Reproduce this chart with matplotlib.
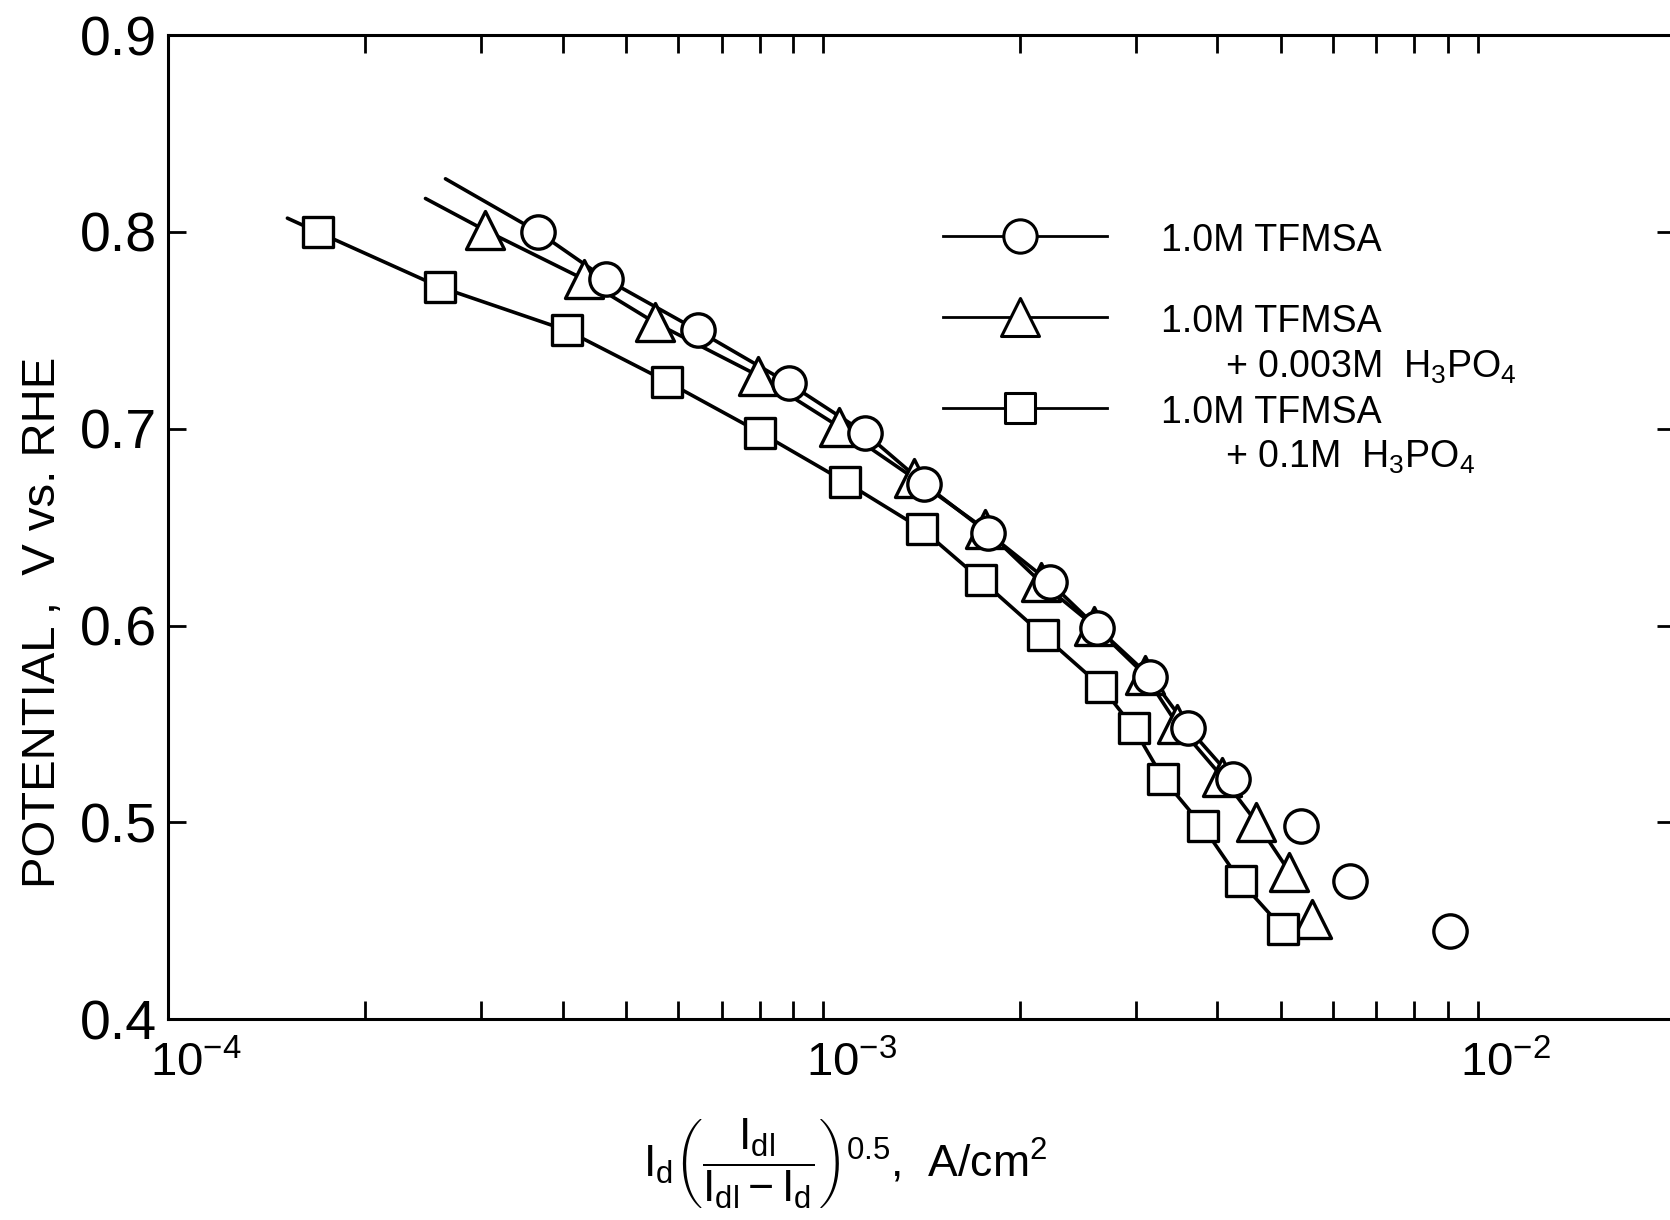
import matplotlib
matplotlib.use('Agg')
import matplotlib.pyplot as plt
import matplotlib.transforms as mtransforms
from matplotlib.markers import MarkerStyle
from matplotlib.ticker import FixedLocator, NullFormatter

plt.rcParams['font.family'] = ['Liberation Sans', 'DejaVu Sans']
plt.rcParams['mathtext.fontset'] = 'custom'
plt.rcParams['mathtext.rm'] = 'Liberation Sans'
plt.rcParams['mathtext.it'] = 'Liberation Sans'
plt.rcParams['mathtext.bf'] = 'Liberation Sans:bold'
plt.rcParams['mathtext.sf'] = 'Liberation Sans'

# values (current density A/cm2, potential V vs RHE)
tfmsa_x = [3.67e-4, 4.66e-4, 6.43e-4, 8.87e-4, 1.157e-3, 1.427e-3, 1.787e-3, 2.22e-3,
           2.62e-3, 3.16e-3, 3.61e-3, 4.23e-3, 5.37e-3, 6.38e-3, 9.07e-3]
tfmsa_v = [0.800, 0.776, 0.750, 0.723, 0.698, 0.672, 0.647, 0.622,
           0.599, 0.574, 0.548, 0.522, 0.498, 0.470, 0.445]

h3po4_003_x = [3.04e-4, 4.31e-4, 5.53e-4, 7.96e-4, 1.058e-3, 1.375e-3, 1.767e-3, 2.15e-3,
               2.59e-3, 3.10e-3, 3.47e-3, 4.07e-3, 4.59e-3, 5.15e-3, 5.58e-3]
h3po4_003_v = [0.801, 0.776, 0.754, 0.727, 0.701, 0.675, 0.649, 0.622,
               0.600, 0.575, 0.550, 0.523, 0.500, 0.475, 0.451]

h3po4_01_x = [1.69e-4, 2.60e-4, 4.06e-4, 5.77e-4, 8.02e-4, 1.081e-3, 1.416e-3, 1.745e-3,
              2.17e-3, 2.66e-3, 2.98e-3, 3.31e-3, 3.80e-3, 4.34e-3, 5.04e-3]
h3po4_01_v = [0.800, 0.772, 0.750, 0.724, 0.698, 0.673, 0.649, 0.623,
              0.595, 0.569, 0.548, 0.522, 0.498, 0.470, 0.446]

# drawn fit lines: where each starts, and how many points it runs through
tfmsa_fit_start = (2.65e-4, 0.827)
tfmsa_fit_n = 12
h3po4_003_fit_start = (2.47e-4, 0.817)
h3po4_003_fit_n = 14
h3po4_01_fit_start = (1.52e-4, 0.807)
h3po4_01_fit_n = 15

labels = ['1.0M TFMSA', '1.0M TFMSA', '1.0M TFMSA']
sublabels = ['', r'+ 0.003M  H$_3$PO$_4$', r'+ 0.1M  H$_3$PO$_4$']

x_major = [1e-4, 1e-3, 1e-2]
x_major_labels = [r'$\mathregular{10^{-4}}$', r'$\mathregular{10^{-3}}$', r'$\mathregular{10^{-2}}$']
x_minor = [m * d for d in (1e-4, 1e-3) for m in range(2, 10)]
y_ticks = [0.4, 0.5, 0.6, 0.7, 0.8, 0.9]

fig = plt.figure(figsize=(16.7, 12.2), dpi=100)
ax = fig.add_axes([0.1008, 0.1646, 0.9022, 0.8066])

ms_kw = dict(color='black', markerfacecolor='white', markeredgecolor='black',
             markeredgewidth=2.4, linestyle='none')
circle = MarkerStyle('o', joinstyle='round')
tri = MarkerStyle('^', joinstyle='round')
square = MarkerStyle('s', joinstyle='round')

series = [
    (h3po4_003_x, h3po4_003_v, h3po4_003_fit_start, h3po4_003_fit_n, tri, 27, 3),
    (tfmsa_x, tfmsa_v, tfmsa_fit_start, tfmsa_fit_n, circle, 24, 4),
    (h3po4_01_x, h3po4_01_v, h3po4_01_fit_start, h3po4_01_fit_n, square, 21, 3),
]
for xs, vs, start, n, mk, size, z in series:
    ax.plot([start[0]] + xs[:n], [start[1]] + vs[:n], color='black', lw=2.6,
            solid_capstyle='round', zorder=2)
    ax.plot(xs, vs, marker=mk, markersize=size, zorder=z, **ms_kw)

ax.set_xscale('log')
ax.set_xlim(1e-4, 2e-2)
ax.set_ylim(0.4, 0.9)
ax.xaxis.set_major_locator(FixedLocator(x_major))
ax.set_xticklabels(x_major_labels)
ax.xaxis.set_minor_locator(FixedLocator(x_minor))
ax.xaxis.set_minor_formatter(NullFormatter())
ax.set_yticks(y_ticks)
ax.set_yticklabels([f'{v:.1f}' for v in y_ticks])

ax.tick_params(which='both', direction='in', top=True, right=True,
               length=13, width=2)
ax.tick_params(axis='x', which='major', labelsize=34, pad=16)
ax.tick_params(axis='y', labelsize=40, pad=8)
for sp in ax.spines.values():
    sp.set_linewidth(2.2)

shift = mtransforms.ScaledTranslation(0.28, 0, fig.dpi_scale_trans)
for lab in ax.get_xticklabels():
    lab.set_transform(lab.get_transform() + shift)

ax.set_ylabel('POTENTIAL ,  V vs. RHE', fontsize=34)
ax.yaxis.label.set_va('center')
ax.yaxis.set_label_coords(-0.083, 0.403)
ax.set_xlabel(r'$\mathregular{I_d\left(\dfrac{I_{dl}}{I_{dl}-I_d}\right)^{0.5}}$,  A/cm$^2$',
              fontsize=32)
ax.xaxis.label.set_va('center')
ax.xaxis.set_label_coords(0.449, -0.147)

# legend drawn by hand to match the original layout
key_rows = [0.7955, 0.7132, 0.6212]
key_markers = [(circle, 24), (tri, 27), (square, 21)]
text_rows = [(0.7803, None), (0.6981, 0.6515), (0.6061, 0.5606)]
for yrow, (mk, size), lab, sub, (ty, sy) in zip(key_rows, key_markers, labels, sublabels, text_rows):
    ax.plot([0.514, 0.565, 0.623], [yrow] * 3, transform=ax.transAxes, color='black',
            lw=2.0, marker=mk, markersize=size, markevery=[1], markerfacecolor='white',
            markeredgewidth=2.2, clip_on=False)
    ax.text(0.6587, ty, lab, transform=ax.transAxes, fontsize=27, va='baseline')
    if sub:
        ax.text(0.701, sy, sub, transform=ax.transAxes, fontsize=27, va='baseline')

fig.savefig('out.png', dpi=100)
